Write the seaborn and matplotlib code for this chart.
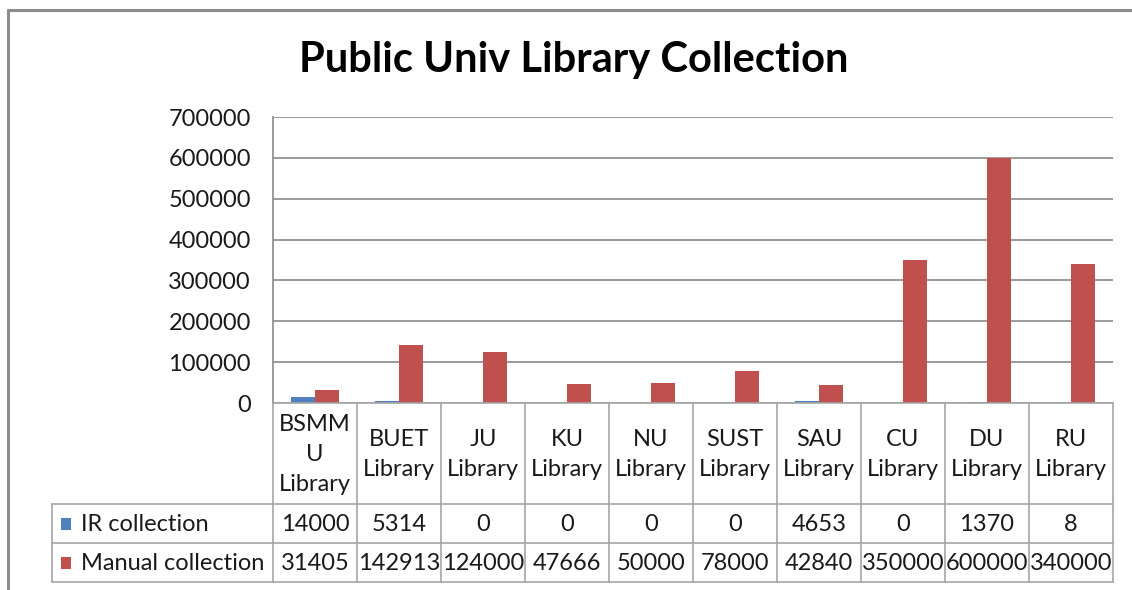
import numpy as np
import pandas as pd
import matplotlib
matplotlib.use("Agg")
import matplotlib.pyplot as plt
from matplotlib.lines import Line2D
from matplotlib.patches import Rectangle
import seaborn as sns

# ---- data ----
categories = ["BSMMU Library", "BUET Library", "JU Library", "KU Library", "NU Library",
              "SUST Library", "SAU Library", "CU Library", "DU Library", "RU Library"]
header_labels = ["BSMM\nU\nLibrary", "BUET\nLibrary", "JU\nLibrary", "KU\nLibrary", "NU\nLibrary",
                 "SUST\nLibrary", "SAU\nLibrary", "CU\nLibrary", "DU\nLibrary", "RU\nLibrary"]
series_names = ["IR collection", "Manual collection"]
ir_collection = [14000, 5314, 0, 0, 0, 0, 4653, 0, 1370, 8]
manual_collection = [31405, 142913, 124000, 47666, 50000, 78000, 42840, 350000, 600000, 340000]
y_ticks = [0, 100000, 200000, 300000, 400000, 500000, 600000, 700000]
title = "Public Univ Library Collection"

colors = ["#4F81BD", "#C0504D"]

df = pd.DataFrame({
    "category": categories * 2,
    "series": [series_names[0]] * len(categories) + [series_names[1]] * len(categories),
    "value": ir_collection + manual_collection,
})

sns.set_theme(style="white")
plt.rcParams["font.family"] = ["Lato", "DejaVu Sans"]

W, H = 1132, 590
fig = plt.figure(figsize=(W / 100, H / 100), dpi=100)
fig.patch.set_facecolor("white")

# pixel layout
px_left, px_right = 273, 1113
px_top, px_zero = 117, 403
tbl_left, tbl_hdr_bot, tbl_row1_bot, tbl_bot = 52, 504, 543, 582

ax = fig.add_axes([px_left / W, 1 - px_zero / H, (px_right - px_left) / W, (px_zero - px_top) / H])
sns.barplot(data=df, x="category", y="value", hue="series", palette=colors,
            order=categories, hue_order=series_names, width=0.57, gap=0,
            saturation=1, legend=False, ax=ax, edgecolor="none")
ax.set_xlim(-0.5, len(categories) - 0.5)
ax.set_ylim(0, 700000)
ax.set_yticks(y_ticks)
ax.set_yticklabels([str(v) for v in y_ticks], fontsize=17, color="#1a1a1a")
ax.tick_params(axis="y", length=0, pad=16)
ax.set_xticks([])
ax.set_xlabel("")
ax.set_ylabel("")
for s in ["top", "right", "bottom"]:
    ax.spines[s].set_visible(False)
ax.spines["left"].set_color("#8a8a8a")
ax.spines["left"].set_linewidth(1.2)
ax.yaxis.grid(True, color="#8a8a8a", linewidth=1.2)
ax.set_axisbelow(True)

# ---- data table ----
cat_w = (px_right - px_left) / len(categories)
x_min = -0.5 - (px_left - tbl_left) / cat_w
tax = fig.add_axes([tbl_left / W, 1 - tbl_bot / H, (px_right - tbl_left) / W, (tbl_bot - px_zero) / H])
tax.set_xlim(x_min, len(categories) - 0.5)
tax.set_ylim(tbl_bot, px_zero)
tax.axis("off")
lc = "#a6a6a6"
lw = 1.2
n = len(categories)
# horizontal lines
tax.plot([-0.5, n - 0.5], [px_zero, px_zero], color=lc, lw=lw, clip_on=False)
for yy in [tbl_hdr_bot, tbl_row1_bot, tbl_bot]:
    tax.plot([x_min, n - 0.5], [yy, yy], color=lc, lw=lw, clip_on=False)
# vertical lines
for i in range(n + 1):
    tax.plot([i - 0.5, i - 0.5], [px_zero, tbl_bot], color=lc, lw=lw, clip_on=False)
tax.plot([x_min, x_min], [tbl_hdr_bot, tbl_bot], color=lc, lw=lw, clip_on=False)

tc = "#1a1a1a"
for i, lab in enumerate(header_labels):
    tax.text(i, (px_zero + tbl_hdr_bot) / 2 + 1, lab, ha="center", va="center",
             fontsize=17, color=tc, linespacing=1.55)
rows = [ir_collection, manual_collection]
row_bounds = [(tbl_hdr_bot, tbl_row1_bot), (tbl_row1_bot, tbl_bot)]
for r, (vals, (y0, y1)) in enumerate(zip(rows, row_bounds)):
    yc = (y0 + y1) / 2
    for i, v in enumerate(vals):
        tax.text(i, yc + 1, str(v), ha="center", va="center", fontsize=17, color=tc)
    # legend key square
    sq_x = x_min + (61 - tbl_left) / cat_w
    sq_w = 10 / cat_w
    tax.add_patch(Rectangle((sq_x, yc - 6), sq_w, 12, facecolor=colors[r], edgecolor="none"))
    tax.text(x_min + (81 - tbl_left) / cat_w, yc + 1, series_names[r], ha="left", va="center",
             fontsize=17, color=tc)

# ---- title ----
fig.text(574 / W, 1 - 60 / H, title, ha="center", va="center", fontsize=30,
         fontweight="bold", color="black")

# ---- chart border (left & top) ----
fig.add_artist(Line2D([8 / W, 8 / W], [0, 1 - 10 / H], transform=fig.transFigure,
                      color="#8c8c8c", lw=2.2))
fig.add_artist(Line2D([8 / W, 1], [1 - 10 / H, 1 - 10 / H], transform=fig.transFigure,
                      color="#8c8c8c", lw=2.2))

fig.savefig("out.png", dpi=100, facecolor="white")
